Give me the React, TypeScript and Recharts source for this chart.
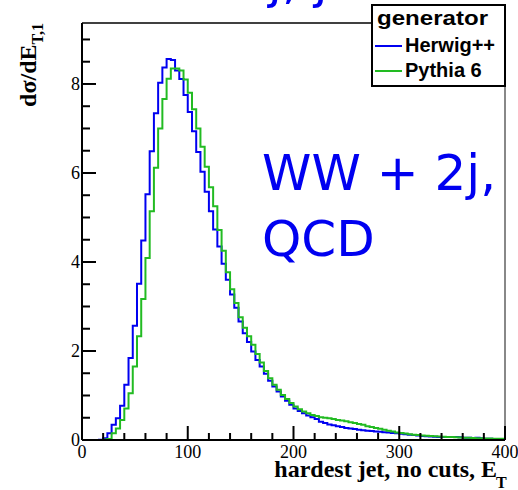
import { Legend, Line, LineChart, ReferenceLine, XAxis, YAxis } from "recharts";

// histogram bins, 4 GeV wide, from 0 to 400
const BIN_WIDTH = 4;

const HERWIG = [
  0, 0, 0, 0, 0.005, 0.04, 0.15, 0.34, 0.49, 0.77,
  1.24, 1.84, 2.57, 3.51, 4.48, 5.52, 6.49, 7.34, 8.03, 8.37,
  8.56, 8.54, 8.3, 8.11, 7.75, 7.37, 6.94, 6.47, 6.03, 5.58,
  5.14, 4.73, 4.35, 3.96, 3.6, 3.27, 2.97, 2.66, 2.4, 2.2,
  1.99, 1.8, 1.65, 1.49, 1.33, 1.2, 1.09, 0.98, 0.88, 0.79,
  0.71, 0.65, 0.6, 0.55, 0.51, 0.47, 0.41, 0.38, 0.35, 0.33,
  0.31, 0.29, 0.27, 0.26, 0.245, 0.23, 0.22, 0.21, 0.2, 0.19,
  0.185, 0.175, 0.17, 0.16, 0.15, 0.14, 0.13, 0.12, 0.11, 0.1,
  0.09, 0.085, 0.08, 0.075, 0.07, 0.065, 0.065, 0.07, 0.07, 0.06,
  0.05, 0.05, 0.045, 0.05, 0.04, 0.03, 0.03, 0.025, 0.025, 0.02,
];

const PYTHIA = [
  0, 0, 0, 0, 0, 0.01, 0.02, 0.15, 0.26, 0.45,
  0.71, 1.05, 1.65, 2.33, 3.17, 4.09, 5.14, 6.12, 7.0, 7.66,
  8.12, 8.35, 8.35, 8.3, 8.1, 7.8, 7.43, 7.0, 6.59, 6.14,
  5.68, 5.25, 4.72, 4.25, 3.77, 3.39, 3.08, 2.76, 2.52, 2.33,
  2.14, 1.93, 1.74, 1.55, 1.39, 1.24, 1.13, 1.01, 0.92, 0.83,
  0.75, 0.69, 0.64, 0.6, 0.56, 0.54, 0.51, 0.5, 0.49, 0.47,
  0.45, 0.44, 0.42, 0.4, 0.38, 0.36, 0.34, 0.31, 0.29, 0.27,
  0.25, 0.23, 0.21, 0.19, 0.17, 0.16, 0.145, 0.13, 0.12, 0.11,
  0.1, 0.095, 0.09, 0.085, 0.08, 0.075, 0.07, 0.065, 0.06, 0.055,
  0.05, 0.05, 0.045, 0.04, 0.04, 0.035, 0.035, 0.03, 0.03, 0.03,
];

const X_TICKS = [0, 20, 40, 60, 80, 100, 120, 140, 160, 180, 200, 220, 240, 260, 280, 300, 320, 340, 360, 380, 400];
const X_LABELS = [0, 100, 200, 300, 400];
const Y_TICKS = [0, 0.5, 1, 1.5, 2, 2.5, 3, 3.5, 4, 4.5, 5, 5.5, 6, 6.5, 7, 7.5, 8, 8.5, 9];
const Y_LABELS = [0, 2, 4, 6, 8];
const Y_MAX = 9.37;

const BLUE = "#0000f0";
const GREEN = "#22bb22";
const SERIF = "'Liberation Serif', 'Times New Roman', serif";
const SANS = "'Liberation Sans', Arial, sans-serif";
const BIG = "'DejaVu Sans', sans-serif";

const data = HERWIG.map((h, i) => ({ x: i * BIN_WIDTH, herwig: h, pythia: PYTHIA[i] }));
data.push({ x: HERWIG.length * BIN_WIDTH, herwig: HERWIG[HERWIG.length - 1], pythia: PYTHIA[PYTHIA.length - 1] });

function YTick({ x, y, payload }: any) {
  const major = Y_LABELS.includes(payload.value);
  return (
    <g>
      <line x1={x} x2={x + (major ? 14 : 8)} y1={y} y2={y} stroke="#000" strokeWidth={2} />
      {major && (
        <text x={x - 2} y={y + 6} textAnchor="end" fontFamily={SERIF} fontSize={18} fill="#000">
          {payload.value}
        </text>
      )}
    </g>
  );
}

function XTick({ x, y, payload }: any) {
  const major = X_LABELS.includes(payload.value);
  return (
    <g>
      <line x1={x} x2={x} y1={y} y2={y - (major ? 14 : 7)} stroke="#000" strokeWidth={2} />
      {major && (
        <text x={x} y={y + 18} textAnchor="middle" fontFamily={SERIF} fontSize={18} fill="#000">
          {payload.value}
        </text>
      )}
    </g>
  );
}

function GeneratorLegend({ payload }: any) {
  return (
    <svg width={136} height={84} style={{ display: "block" }}>
      <rect x={1} y={1} width={133} height={81} fill="#fff" stroke="#000" strokeWidth={2} />
      <text
        x={6}
        y={21}
        fontFamily={SANS}
        fontWeight="bold"
        fontSize={21}
        fill="#000"
        textLength={111}
        lengthAdjust="spacingAndGlyphs"
      >
        generator
      </text>
      {(payload || []).map((entry: any, i: number) => (
        <g key={entry.value}>
          <line x1={4} x2={31} y1={42 + i * 25} y2={42 + i * 25} stroke={entry.color} strokeWidth={2} />
          <text x={34} y={48 + i * 25} fontFamily={SANS} fontWeight="bold" fontSize={20} fill="#000">
            {entry.value}
          </text>
        </g>
      ))}
    </svg>
  );
}

export default function App() {
  return (
    <div style={{ position: "absolute", left: 0, top: 0, width: 518, height: 490, background: "#fff" }}>
      <LineChart width={518} height={490} data={data} margin={{ top: 23, right: 13, bottom: 20, left: 52 }}>
        <XAxis
          dataKey="x"
          type="number"
          domain={[0, 400]}
          ticks={X_TICKS}
          interval={0}
          tickSize={0}
          tickMargin={0}
          tickLine={false}
          tick={<XTick />}
          height={30}
          axisLine={{ stroke: "#000", strokeWidth: 2 }}
        />
        <YAxis
          type="number"
          domain={[0, Y_MAX]}
          allowDataOverflow
          ticks={Y_TICKS}
          interval={0}
          tickSize={0}
          tickMargin={0}
          tickLine={false}
          tick={<YTick />}
          width={30}
          axisLine={{ stroke: "#000", strokeWidth: 2 }}
        />
        <ReferenceLine y={Y_MAX} stroke="#000" strokeWidth={1.5} />
        <ReferenceLine x={400} stroke="#888" strokeWidth={2} />
        <Line
          dataKey="herwig"
          name="Herwig++"
          type="stepAfter"
          stroke={BLUE}
          strokeWidth={2}
          dot={false}
          isAnimationActive={false}
        />
        <Line
          dataKey="pythia"
          name="Pythia 6"
          type="stepAfter"
          stroke={GREEN}
          strokeWidth={2}
          dot={false}
          isAnimationActive={false}
        />
        <Legend
          layout="horizontal"
          verticalAlign="middle"
          align="center"
          content={<GeneratorLegend />}
          wrapperStyle={{ position: "absolute", left: 371, top: 4, width: 136, height: 84 }}
        />
      </LineChart>
      <svg
        width={518}
        height={490}
        style={{ position: "absolute", left: 0, top: 0, pointerEvents: "none" }}
      >
        <text x={268} y={-2} fontFamily={BIG} fontSize={50} fill={BLUE}>
          j, j
        </text>
        <text x={262} y={190} fontFamily={BIG} fontSize={50} fill={BLUE}>
          WW + 2j,
        </text>
        <text x={262} y={256} fontFamily={BIG} fontSize={50} fill={BLUE}>
          QCD
        </text>
        <text
          transform="translate(36, 23) rotate(-90)"
          textAnchor="end"
          fontFamily={SERIF}
          fontWeight="bold"
          fontSize={24}
          fill="#000"
        >
          dσ/dE
          <tspan fontSize={16} dy={7}>T,1</tspan>
        </text>
        <text
          x={497}
          y={477}
          textAnchor="end"
          fontFamily={SERIF}
          fontWeight="bold"
          fontSize={24}
          fill="#000"
        >
          hardest jet, no cuts, E
        </text>
        <text x={496} y={488} fontFamily={SERIF} fontWeight="bold" fontSize={16} fill="#000">
          T
        </text>
      </svg>
    </div>
  );
}
